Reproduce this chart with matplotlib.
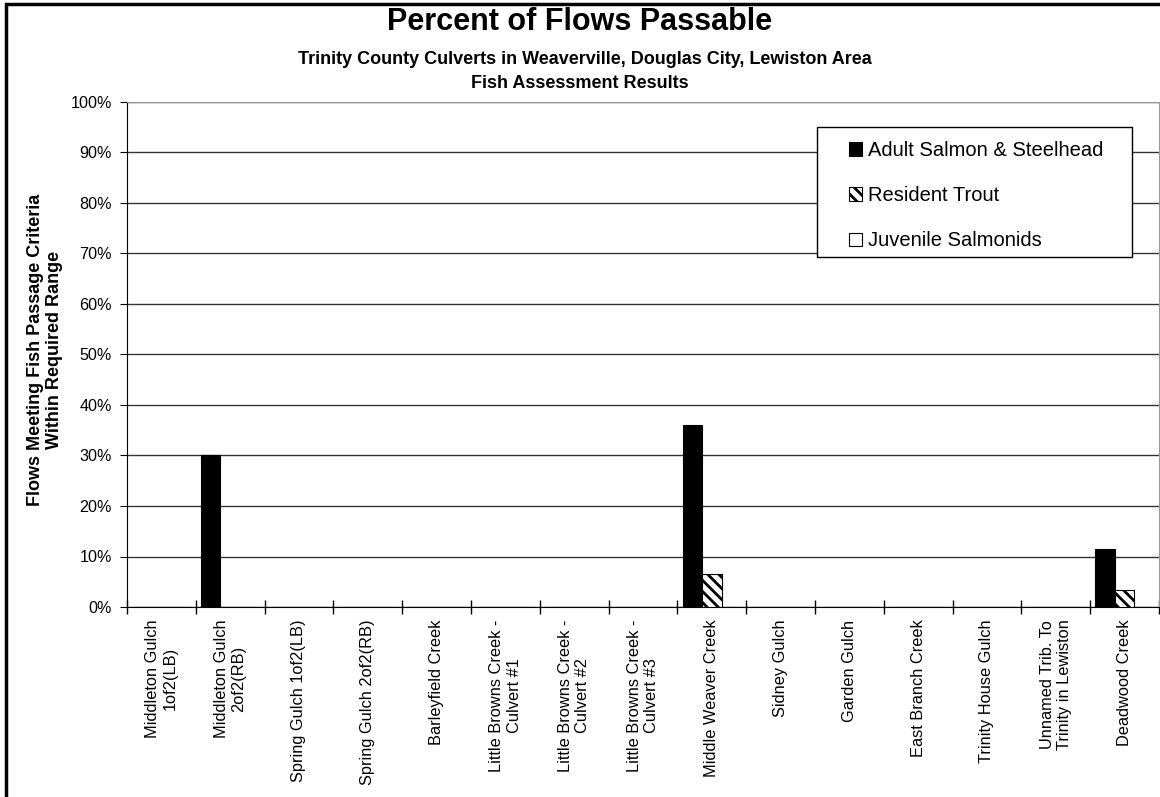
import numpy as np
import matplotlib
matplotlib.use("Agg")
import matplotlib.pyplot as plt
from matplotlib.patches import Rectangle
from matplotlib.ticker import FuncFormatter

plt.rcParams['font.family'] = ['Liberation Sans', 'DejaVu Sans']
plt.rcParams['hatch.linewidth'] = 2.0

categories = ["Middleton Gulch\n1of2(LB)", "Middleton Gulch\n2of2(RB)", "Spring Gulch 1of2(LB)",
              "Spring Gulch 2of2(RB)", "Barleyfield Creek", "Little Browns Creek -\nCulvert #1",
              "Little Browns Creek -\nCulvert #2", "Little Browns Creek -\nCulvert #3",
              "Middle Weaver Creek", "Sidney Gulch", "Garden Gulch", "East Branch Creek",
              "Trinity House Gulch", "Unnamed Trib. To\nTrinity in Lewiston", "Deadwood Creek"]
adult = [0, 30, 0, 0, 0, 0, 0, 0, 36, 0, 0, 0, 0, 0, 11.4]
trout = [0, 0, 0, 0, 0, 0, 0, 0, 6.5, 0, 0, 0, 0, 0, 3.3]
juvenile = [0, 0, 0, 0, 0, 0, 0, 0, 0, 0, 0, 0, 0, 0, 0]
series_names = ["Adult Salmon & Steelhead", "Resident Trout", "Juvenile Salmonids"]

W, H = 1160, 797
fig = plt.figure(figsize=(W/100, H/100), dpi=100)
ax = fig.add_axes([127/W, 1-607/H, 1032/W, 505/H])

x = np.arange(len(categories))
bw = 0.283
b1 = ax.bar(x - bw, adult, bw, color="black", edgecolor="black", lw=0.8, zorder=3)
b2 = ax.bar(x, trout, bw, color="white", edgecolor="black", hatch="\\\\\\", lw=0.8, zorder=3)
b3 = ax.bar(x + bw, juvenile, bw, color="white", edgecolor="black", lw=0.8, zorder=3)

ax.set_xlim(-0.5, len(categories) - 0.5)
ax.set_ylim(0, 100)
ax.set_yticks(np.arange(0, 101, 10))
ax.yaxis.set_major_formatter(FuncFormatter(lambda v, p: f"{int(v)}%"))
ax.grid(axis="y", color="#333333", lw=1.0, zorder=0)
ax.tick_params(axis="y", direction="out", length=5, labelsize=11.6, pad=6)
ax.set_xticks(np.arange(len(categories) + 1) - 0.5, minor=False)
ax.set_xticklabels([])
ax.tick_params(axis="x", which="major", direction="inout", length=10, width=1)
ax.set_xticks(x, minor=True)
ax.set_xticklabels(categories, minor=True, rotation=90, ha="center", va="top",
                   multialignment="center", fontsize=11.8)
ax.tick_params(axis="x", which="minor", length=0, pad=9)
for s in ["top", "right"]:
    ax.spines[s].set_color("#999999")
ax.spines["left"].set_color("black")
ax.spines["bottom"].set_color("black")

ax.set_ylabel("Flows Meeting Fish Passage Criteria\nWithin Required Range", fontsize=13,
              fontweight="bold", va="center")
ax.yaxis.set_label_coords(-(127 - 45) / 1032, 0.51)

fig.text(0.5, 1-22/H, "Percent of Flows Passable", ha="center", va="center",
         fontsize=22, fontweight="bold")
fig.text(585/W, 1-59/H, "Trinity County Culverts in Weaverville, Douglas City, Lewiston Area",
         ha="center", va="center", fontsize=13, fontweight="bold")
fig.text(0.5, 1-83/H, "Fish Assessment Results", ha="center", va="center",
         fontsize=13, fontweight="bold")

# legend frame drawn separately, entries placed inside
fig.patches.append(Rectangle((817/W, 1-257/H), 315/W, 130/H, transform=fig.transFigure,
                             facecolor="white", edgecolor="black", lw=1.0, zorder=5))
leg = fig.legend([b1, b2, b3], series_names, loc="upper left",
                 bbox_to_anchor=(849/W, 1-141/H), fontsize=14.5, frameon=False,
                 labelspacing=1.3, handlelength=0.65, handleheight=0.65,
                 handletextpad=0.3, borderpad=0, borderaxespad=0)
leg.set_zorder(6)

# chart border (top and left visible)
fig.patches.append(Rectangle((6/W, -0.1), 2, 1.1 - 4/H, transform=fig.transFigure,
                             fill=False, edgecolor="black", lw=2.5))

fig.savefig("out.png", dpi=100)
